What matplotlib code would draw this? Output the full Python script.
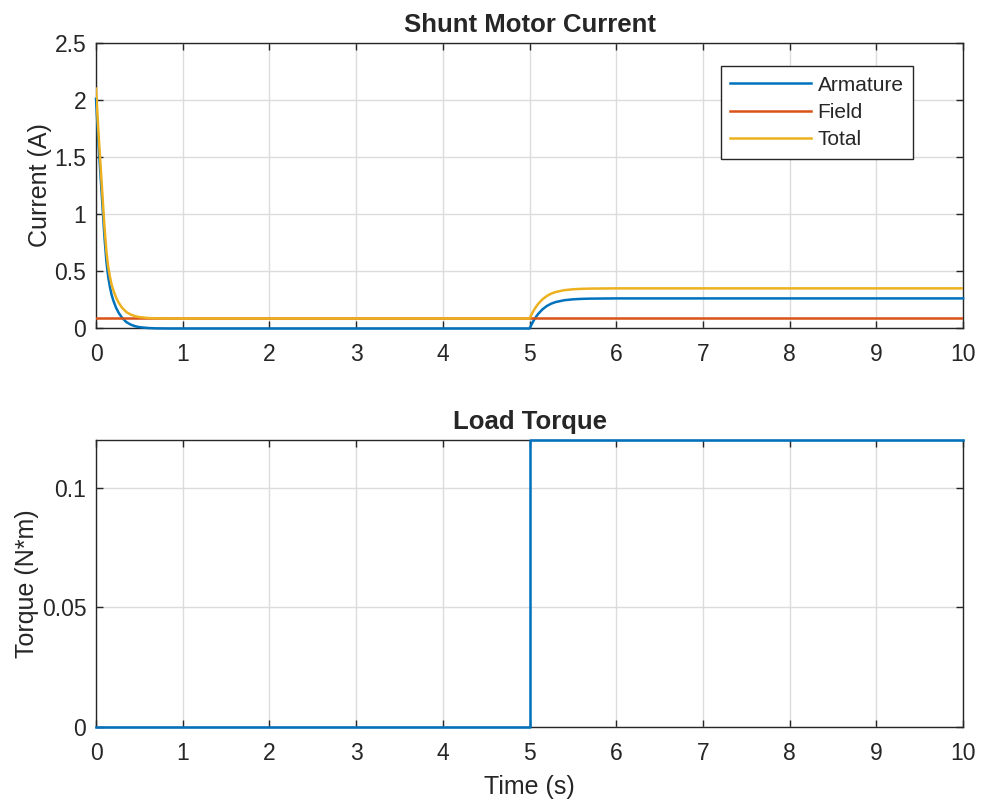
import matplotlib
matplotlib.use("Agg")
import matplotlib.pyplot as plt
from matplotlib.ticker import FuncFormatter

# ─── data ─────────────────────────────────────────────────────────────────────

time_s = [0, 0.01, 0.02, 0.03, 0.04, 0.05, 0.06, 0.07, 0.08, 0.09, 0.10,
          0.12, 0.14, 0.16, 0.18, 0.20, 0.23, 0.26, 0.30, 0.35, 0.40, 0.45,
          0.50, 0.60, 0.70, 0.85, 1.0, 5.0, 5.01, 5.03, 5.05, 5.08, 5.10,
          5.15, 5.20, 5.25, 5.30, 5.40, 5.50, 5.60, 5.70, 5.85, 6.0, 7.0, 10.0]

armature_a = [2.01, 1.87, 1.73, 1.60, 1.48, 1.36, 1.24, 1.12, 1.00, 0.88, 0.77,
              0.58, 0.45, 0.36, 0.29, 0.24, 0.18, 0.135, 0.09, 0.052, 0.03, 0.016,
              0.008, 0.0, -0.003, -0.004, -0.004, -0.004, 0.012, 0.042, 0.07, 0.105,
              0.125, 0.165, 0.194, 0.214, 0.228, 0.244, 0.252, 0.256, 0.258, 0.259,
              0.26, 0.26, 0.26]

total_a = [2.10, 1.96, 1.82, 1.69, 1.57, 1.45, 1.33, 1.21, 1.09, 0.97, 0.86,
           0.67, 0.54, 0.45, 0.38, 0.33, 0.27, 0.223, 0.178, 0.14, 0.118, 0.104,
           0.096, 0.088, 0.085, 0.084, 0.084, 0.084, 0.10, 0.13, 0.158, 0.193,
           0.213, 0.253, 0.282, 0.302, 0.316, 0.332, 0.340, 0.344, 0.346, 0.347,
           0.348, 0.348, 0.348]

field_time = [0, 10]
field_a = [0.088, 0.088]

torque_time = [0, 5, 10]
torque_nm = [0, 0.12, 0.12]

# ─── style ────────────────────────────────────────────────────────────────────

BLUE, RED, YELLOW = "#0072BD", "#D95319", "#EDB120"
INK = "#262626"

plt.rcParams["font.family"] = ["Liberation Sans", "DejaVu Sans"]
plt.rcParams["text.color"] = INK
plt.rcParams["axes.labelcolor"] = INK

_TICK = 16.5
_LABEL = 18
_TITLE = 18.5
_LEGEND = 15
_LW = 1.8


def _style(ax, yticks, ylim):
    ax.set_xlim(0, 10)
    ax.set_ylim(*ylim)
    ax.set_xticks(range(0, 11))
    ax.set_yticks(yticks)
    ax.yaxis.set_major_formatter(FuncFormatter(lambda v, p: f"{v:g}"))
    ax.tick_params(axis="both", direction="in", length=5, width=1,
                   colors=INK, labelsize=_TICK, top=True, right=True)
    ax.tick_params(axis="x", pad=11)
    ax.tick_params(axis="y", pad=7)
    for s in ax.spines.values():
        s.set_color(INK)
        s.set_linewidth(1.0)
    ax.grid(True, color="#dcdcdc", linewidth=1.0)
    ax.set_axisbelow(True)


fig = plt.figure(figsize=(9.82, 8.06), dpi=100)
ax1 = fig.add_axes([0.0978, 0.593, 0.883, 0.3536])
ax2 = fig.add_axes([0.0978, 0.098, 0.883, 0.356])

# top: currents
ax1.plot(time_s, armature_a, color=BLUE, lw=_LW, label="Armature", clip_on=False, zorder=3)
ax1.plot(field_time, field_a, color=RED, lw=_LW, label="Field", zorder=3)
ax1.plot(time_s, total_a, color=YELLOW, lw=_LW, label="Total", zorder=3)
_style(ax1, [0, 0.5, 1, 1.5, 2, 2.5], (0, 2.5))
ax1.set_ylabel("Current (A)", fontsize=_LABEL, labelpad=2)
ax1.set_title("Shunt Motor Current", fontsize=_TITLE, fontweight="bold", pad=8)
leg = ax1.legend(loc="upper right", bbox_to_anchor=(0.942, 0.919), borderaxespad=0,
                 fontsize=_LEGEND, fancybox=False, framealpha=1, edgecolor=INK,
                 handlelength=3.9, handletextpad=0.3, labelspacing=0.4,
                 borderpad=0.45)
leg.get_frame().set_linewidth(1.0)
for txt in leg.get_texts():
    txt.set_color(INK)

# bottom: load torque
ax2.plot(torque_time, torque_nm, color=BLUE, lw=_LW, drawstyle="steps-post",
         clip_on=False, zorder=3)
_style(ax2, [0, 0.05, 0.1], (0, 0.12))
ax2.set_ylabel("Torque (N*m)", fontsize=_LABEL, labelpad=2)
ax2.set_xlabel("Time (s)", fontsize=_LABEL, labelpad=7)
ax2.set_title("Load Torque", fontsize=_TITLE, fontweight="bold", pad=8)

fig.savefig("out.png", dpi=100)
